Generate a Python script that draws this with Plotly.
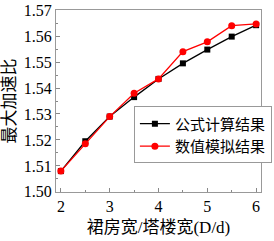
import plotly.graph_objects as go

ratio = [2, 2.5, 3, 3.5, 4, 4.5, 5, 5.5, 6]
formula = [1.508, 1.5195, 1.529, 1.5365, 1.5435, 1.5495, 1.5548, 1.5598, 1.5642]
simulation = [1.508, 1.5185, 1.529, 1.538, 1.5435, 1.554, 1.5578, 1.564, 1.5647]
x_ticks = [2, 3, 4, 5, 6]
y_ticks = [1.50, 1.51, 1.52, 1.53, 1.54, 1.55, 1.56, 1.57]

FONT = "Liberation Serif"
CJK = "Liberation Serif, Noto Sans CJK SC"

fig = go.Figure()
fig.add_trace(go.Scatter(x=ratio, y=formula, mode="lines+markers", name="公式计算结果",
                         line=dict(color="black", width=1.3),
                         marker=dict(symbol="square", size=6, color="black")))
fig.add_trace(go.Scatter(x=ratio, y=simulation, mode="lines+markers", name="数值模拟结果",
                         line=dict(color="#ff0000", width=1.3),
                         marker=dict(symbol="circle", size=7, color="#ff0000")))

fig.update_layout(
    width=274, height=241,
    margin=dict(l=56, r=2, t=6, b=49),
    plot_bgcolor="white", paper_bgcolor="white",
    font=dict(family=CJK, size=16, color="black"),
    showlegend=True,
    legend=dict(x=0.38, y=0.47, xanchor="left", yanchor="top",
                bgcolor="white", bordercolor="#999999", borderwidth=1,
                font=dict(size=15, family=CJK), itemwidth=30,
                tracegroupgap=0),
    xaxis=dict(range=[1.9, 6.1], tickvals=x_ticks, ticks="inside", ticklen=4,
               tickcolor="#888888", tickfont=dict(family=FONT, size=16),
               ticklabeloverflow="allow",
               minor=dict(dtick=0.5, tick0=2, ticks="inside", ticklen=2, tickcolor="#888888"),
               showline=True, linecolor="#999999", mirror=True, showgrid=False,
               zeroline=False,
               title=dict(text="裙房宽/塔楼宽(D/d)", font=dict(size=17, family=CJK), standoff=6)),
    yaxis=dict(range=[1.49995, 1.57005], tickvals=y_ticks, tickformat=".2f",
               ticks="inside", ticklen=4, tickcolor="#888888",
               tickfont=dict(family=FONT, size=16), ticklabeloverflow="allow",
               minor=dict(dtick=0.005, tick0=1.5, ticks="inside", ticklen=2, tickcolor="#888888"),
               showline=True, linecolor="#999999", mirror=True, showgrid=False,
               zeroline=False,
               title=dict(text="最大加速比", font=dict(size=17, family=CJK), standoff=4)),
)

fig.write_html("out.html")
